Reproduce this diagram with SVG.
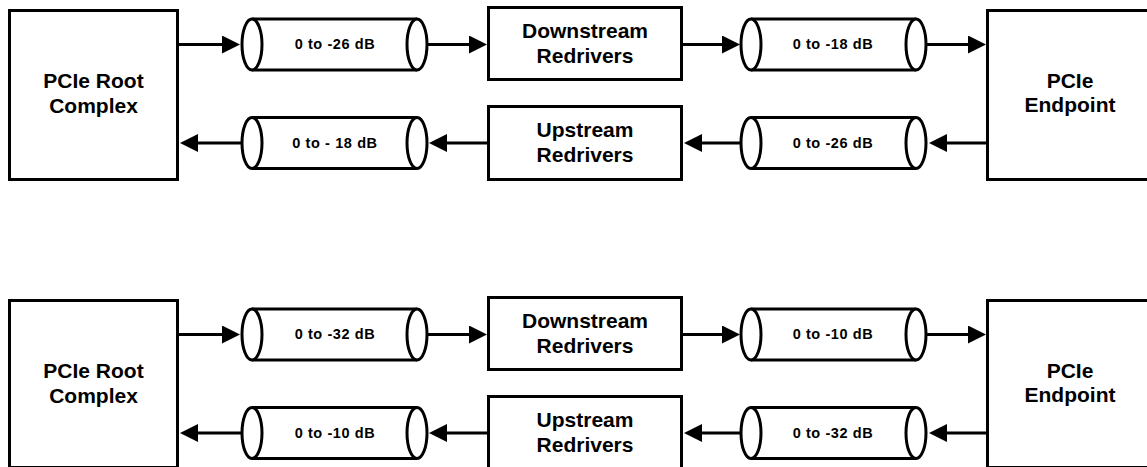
<svg xmlns="http://www.w3.org/2000/svg" width="1147" height="467" viewBox="0 0 1147 467">
<style>
.box{fill:#fff;stroke:#000;stroke-width:3}
.cyl{fill:#fff;stroke:#000;stroke-width:3}
.lbl{font-family:"Liberation Sans",Arial,Helvetica,sans-serif;font-weight:bold;font-size:21px;text-anchor:middle;fill:#000}
.ch{font-family:"Liberation Sans",Arial,Helvetica,sans-serif;font-weight:bold;font-size:14.5px;letter-spacing:0.6px;text-anchor:middle;fill:#000}
.con{stroke:#000;stroke-width:3;fill:none;marker-end:url(#ah)}
</style>
<defs>
<marker id="ah" markerUnits="userSpaceOnUse" markerWidth="20" markerHeight="20" refX="1" refY="9" orient="auto">
<path d="M0,0 L18,9 L0,18 Z" fill="#000"/>
</marker>
<g id="cylShape">
<path class="cyl" d="M0,0 H165 M0,51 H165"/>
<ellipse class="cyl" cx="0" cy="25.5" rx="10" ry="25.5"/>
<ellipse class="cyl" cx="165" cy="25.5" rx="10" ry="25.5"/>
</g>
</defs>
<rect width="1147" height="467" fill="#fff"/>

<!-- ===== Top diagram ===== -->
<g id="conn1">
<line class="con" x1="178" y1="44.5" x2="223" y2="44.5"/>
<line class="con" x1="427" y1="44.5" x2="470" y2="44.5"/>
<line class="con" x1="682" y1="44.5" x2="723" y2="44.5"/>
<line class="con" x1="926" y1="44.5" x2="969" y2="44.5"/>
<line class="con" x1="987" y1="143" x2="946" y2="143"/>
<line class="con" x1="741" y1="143" x2="701" y2="143"/>
<line class="con" x1="488" y1="143" x2="446" y2="143"/>
<line class="con" x1="242" y1="143" x2="197" y2="143"/>
</g>
<g id="root1">
<rect class="box" x="9.5" y="10.5" width="168" height="169"/>
<text class="lbl" x="93.5" y="88">PCIe Root</text>
<text class="lbl" x="93.5" y="113">Complex</text>
</g>
<g id="down1">
<rect class="box" x="488.5" y="7.5" width="193" height="72"/>
<text class="lbl" x="585" y="38">Downstream</text>
<text class="lbl" x="585" y="63">Redrivers</text>
</g>
<g id="up1">
<rect class="box" x="488.5" y="106.5" width="193" height="73"/>
<text class="lbl" x="585" y="137">Upstream</text>
<text class="lbl" x="585" y="162">Redrivers</text>
</g>
<g id="end1">
<rect class="box" x="987.5" y="10.5" width="170" height="169"/>
<text class="lbl" x="1070" y="88">PCIe</text>
<text class="lbl" x="1070" y="112">Endpoint</text>
</g>
<g id="ch1a">
<use href="#cylShape" x="252" y="19"/>
<text class="ch" x="335" y="49">0 to -26 dB</text>
</g>
<g id="ch1b">
<use href="#cylShape" x="751" y="19"/>
<text class="ch" x="833" y="49">0 to -18 dB</text>
</g>
<g id="ch1c">
<use href="#cylShape" x="252" y="117.5"/>
<text class="ch" x="335" y="148">0 to - 18 dB</text>
</g>
<g id="ch1d">
<use href="#cylShape" x="751" y="117.5"/>
<text class="ch" x="833" y="148">0 to -26 dB</text>
</g>

<!-- ===== Bottom diagram ===== -->
<g id="conn2">
<line class="con" x1="178" y1="334.5" x2="223" y2="334.5"/>
<line class="con" x1="427" y1="334.5" x2="470" y2="334.5"/>
<line class="con" x1="682" y1="334.5" x2="723" y2="334.5"/>
<line class="con" x1="926" y1="334.5" x2="969" y2="334.5"/>
<line class="con" x1="987" y1="433" x2="946" y2="433"/>
<line class="con" x1="741" y1="433" x2="701" y2="433"/>
<line class="con" x1="488" y1="433" x2="446" y2="433"/>
<line class="con" x1="242" y1="433" x2="197" y2="433"/>
</g>
<g id="root2">
<rect class="box" x="9.5" y="300.5" width="168" height="167"/>
<text class="lbl" x="93.5" y="378">PCIe Root</text>
<text class="lbl" x="93.5" y="403">Complex</text>
</g>
<g id="down2">
<rect class="box" x="488.5" y="297.5" width="193" height="72"/>
<text class="lbl" x="585" y="328">Downstream</text>
<text class="lbl" x="585" y="353">Redrivers</text>
</g>
<g id="up2">
<rect class="box" x="488.5" y="396.5" width="193" height="73"/>
<text class="lbl" x="585" y="427">Upstream</text>
<text class="lbl" x="585" y="452">Redrivers</text>
</g>
<g id="end2">
<rect class="box" x="987.5" y="300.5" width="170" height="167"/>
<text class="lbl" x="1070" y="378">PCIe</text>
<text class="lbl" x="1070" y="402">Endpoint</text>
</g>
<g id="ch2a">
<use href="#cylShape" x="252" y="309"/>
<text class="ch" x="335" y="339">0 to -32 dB</text>
</g>
<g id="ch2b">
<use href="#cylShape" x="751" y="309"/>
<text class="ch" x="833" y="339">0 to -10 dB</text>
</g>
<g id="ch2c">
<use href="#cylShape" x="252" y="407.5"/>
<text class="ch" x="335" y="438">0 to -10 dB</text>
</g>
<g id="ch2d">
<use href="#cylShape" x="751" y="407.5"/>
<text class="ch" x="833" y="438">0 to -32 dB</text>
</g>
</svg>
